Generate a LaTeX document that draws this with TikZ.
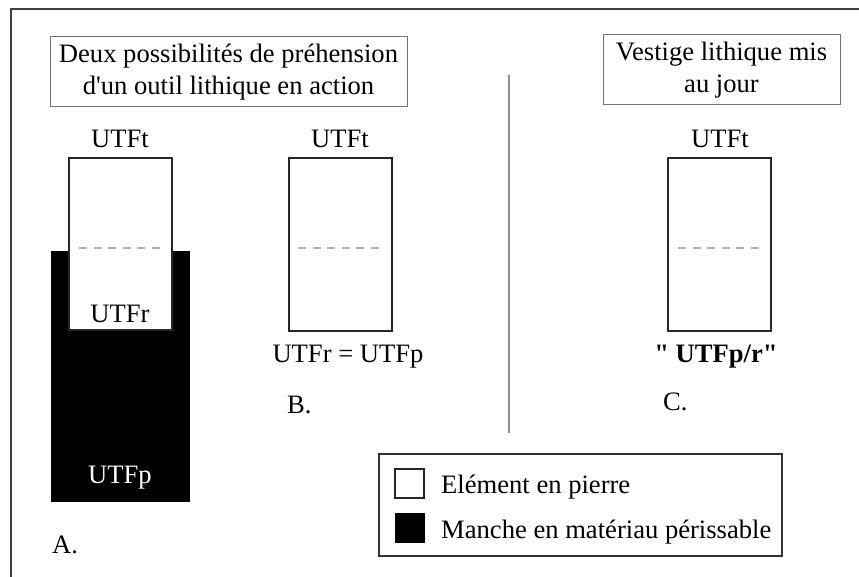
\documentclass[tikz,border=0pt]{standalone}
\usepackage{fontspec}
\setmainfont{Liberation Serif}
\begin{document}
\begin{tikzpicture}[x=1pt,y=-1pt,
  font=\fontsize{26.6}{32.5}\selectfont,
  stone/.style={draw=black!85, line width=1.3pt, fill=white, inner sep=0pt},
  handle/.style={fill=black, draw=black, inner sep=0pt},
  cut/.style={draw=black!30, line width=1.1pt, dash pattern=on 8pt off 6.5pt},
  titlebox/.style={draw=black!55, line width=1pt, align=center, inner sep=0pt},
  lbl/.style={inner sep=0pt, anchor=base},
  divider/.style={draw=black!45, line width=1.3pt},
  frame/.style={draw=black!75, line width=2pt}]
\useasboundingbox (0,0) rectangle (859,577);
% outer frame (cropped)
\coordinate (fBL) at (11,577);
\coordinate (fTL) at (11,9);
\coordinate (fTR) at (859,9);
\draw[frame] (fBL) -- (fTL) -- (fTR);

% titles
\node[titlebox, minimum width=357, minimum height=70] (title1) at (228.5,72)
  {Deux possibilités de préhension\\d\textquotesingle un outil lithique en action};
\node[titlebox, minimum width=237, minimum height=70] (title2) at (721.5,70)
  {Vestige lithique mis\\au jour};

% A
\node[handle, minimum width=138, minimum height=250] (handleA) at (120,376) {};
\node[stone, minimum width=103, minimum height=172] (stoneA) at (120.5,244) {};
\coordinate (dA1) at (79,248);
\coordinate (dA2) at (163,248);
\draw[cut] (dA1) -- (dA2);
\node[lbl] (tA) at (120,148) {UTFt};
\node[lbl] (rA) at (120,322) {UTFr};
\node[lbl, text=white] (pA) at (120,483) {UTFp};
\node[lbl, anchor=base west] (labA) at (52,553) {A.};

% B
\node[stone, minimum width=103, minimum height=173] (stoneB) at (340.5,244.5) {};
\coordinate (dB1) at (298,248);
\coordinate (dB2) at (382,248);
\draw[cut] (dB1) -- (dB2);
\node[lbl] (tB) at (340,148) {UTFt};
\node[lbl] (rpB) at (348,362) {UTFr = UTFp};
\node[lbl, anchor=base west] (labB) at (287,413) {B.};

% divider
\coordinate (v1) at (509,75);
\coordinate (v2) at (509,433);
\draw[divider] (v1) -- (v2);

% C
\node[stone, minimum width=103, minimum height=173] (stoneC) at (719.5,244.5) {};
\coordinate (dC1) at (678,248);
\coordinate (dC2) at (762,248);
\draw[cut] (dC1) -- (dC2);
\node[lbl] (tC) at (720,148) {UTFt};
\node[lbl, font=\fontsize{26.6}{32.5}\selectfont\bfseries] (prC) at (716,362) {\textquotedbl{} UTFp/r\textquotedbl};
\node[lbl, anchor=base west] (labC) at (663,410) {C.};

% legend
\node[draw=black!80, line width=1.3pt, minimum width=403, minimum height=102, inner sep=0pt] (legend) at (580.5,505) {};
\node[stone, minimum width=29, minimum height=29] (swW) at (409.5,483.5) {};
\node[handle, minimum width=29, minimum height=29] (swB) at (409.5,527.5) {};
\node[lbl, anchor=base west] (lgW) at (441,493) {Elément en pierre};
\node[lbl, anchor=base west] (lgB) at (441,538) {Manche en matériau périssable};
\end{tikzpicture}
\end{document}
